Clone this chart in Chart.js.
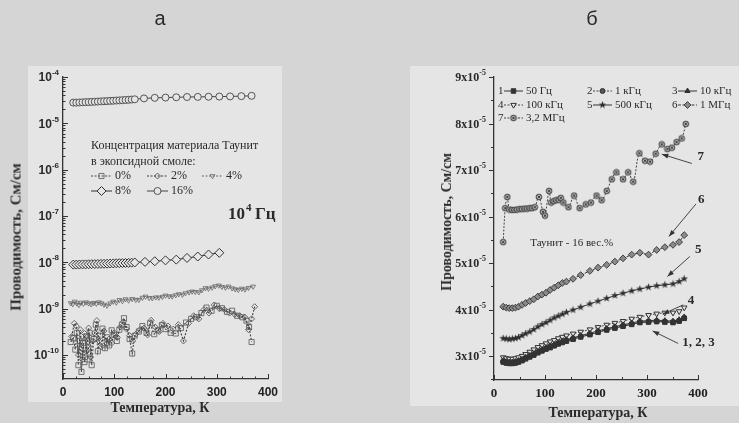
<!DOCTYPE html>
<html lang="ru">
<head>
<meta charset="utf-8">
<title>Проводимость</title>
<script src="https://cdn.jsdelivr.net/npm/chart.js@4.4.1/dist/chart.umd.min.js"></script>
<style>
  body { margin:0; width:739px; height:423px; overflow:hidden; background:#d5d5d5; position:relative; }
  .panel { position:absolute; background:#e5e5e5; }
  .chart-box { position:absolute; top:0; height:423px; }
  .label { position:absolute; color:#2a2a2a; white-space:nowrap; }
  .letter { font:20px "Liberation Sans", Arial, sans-serif; transform:translate(-50%,-50%); }
  .ytitle { font:bold 15px "Liberation Serif", serif; transform:translate(-50%,-50%) rotate(-90deg); }
  .xtitle { font:bold 14px "Liberation Serif", serif; transform:translate(-50%,-50%); }
</style>
</head>
<body>
<div class="panel" style="left:28px;top:66px;width:254px;height:336px"></div>
<div class="panel" style="left:410px;top:66px;width:329px;height:340px"></div>
<div class="chart-box" style="left:0;width:285px"><canvas id="chartA"></canvas></div>
<div class="chart-box" style="left:420px;width:319px"><canvas id="chartB"></canvas></div>
<div class="label letter" style="left:160px;top:18px">а</div>
<div class="label letter" style="left:592px;top:18px">б</div>
<div class="label ytitle" style="left:16px;top:237px">Проводимость, См/см</div>
<div class="label ytitle" style="left:447px;top:222px;font-size:14px">Проводимость, См/см</div>
<div class="label xtitle" style="left:160px;top:408px">Температура, К</div>
<div class="label xtitle" style="left:598px;top:413px">Температура, К</div>

<script>
// ---- панель а: 10^4 Гц, разные концентрации Таунита (См/см) ----
const t16 = [20,26,32,38,44,50,56,62,68,74,80,86,92,98,104,110,116,122,128,134,140,158,179,200,221,242,263,284,305,326,348,368];
const sigma16 = [2.80e-5,2.80e-5,2.82e-5,2.84e-5,2.86e-5,2.88e-5,2.90e-5,2.93e-5,2.95e-5,2.97e-5,3.00e-5,3.02e-5,3.05e-5,3.07e-5,3.10e-5,3.13e-5,3.16e-5,3.19e-5,3.22e-5,3.26e-5,3.30e-5,3.45e-5,3.55e-5,3.60e-5,3.65e-5,3.70e-5,3.72e-5,3.75e-5,3.78e-5,3.81e-5,3.86e-5,3.92e-5];

const t8 = [20,26,32,38,44,50,56,62,68,74,80,86,92,98,104,110,116,122,128,134,140,160,179,200,221,242,263,284,305];
const sigma8 = [8.9e-9,8.9e-9,8.95e-9,9.0e-9,9.0e-9,9.05e-9,9.1e-9,9.15e-9,9.2e-9,9.25e-9,9.3e-9,9.35e-9,9.4e-9,9.45e-9,9.5e-9,9.55e-9,9.6e-9,9.65e-9,9.7e-9,9.8e-9,9.9e-9,1.02e-8,1.05e-8,1.10e-8,1.14e-8,1.24e-8,1.33e-8,1.47e-8,1.60e-8];

const t4 = [15,19,23,27,31,35,40,45,50,55,60,65,70,75,80,86,92,98,104,110,116,122,128,135,142,148,155,161,168,174,181,187,194,200,207,213,220,226,233,239,246,252,258,265,271,278,284,291,297,304,310,317,323,330,336,342,349,355,362,371];
const sigma4 = [1.31e-9,1.25e-9,1.42e-9,1.30e-9,1.20e-9,1.35e-9,1.28e-9,1.37e-9,1.30e-9,1.24e-9,1.33e-9,1.28e-9,1.37e-9,1.30e-9,1.22e-9,1.16e-9,1.30e-9,1.42e-9,1.35e-9,1.54e-9,1.45e-9,1.60e-9,1.50e-9,1.62e-9,1.55e-9,1.55e-9,1.72e-9,1.82e-9,1.70e-9,1.68e-9,1.75e-9,1.73e-9,1.80e-9,1.92e-9,1.85e-9,1.83e-9,1.95e-9,2.05e-9,2.00e-9,2.15e-9,2.25e-9,2.34e-9,2.30e-9,2.26e-9,2.50e-9,2.77e-9,2.70e-9,2.86e-9,3.05e-9,3.16e-9,2.95e-9,2.85e-9,3.00e-9,2.75e-9,2.62e-9,2.55e-9,2.70e-9,2.60e-9,2.80e-9,3.00e-9];

const t2 = [17,22,26,30,34,38,42,46,50,54,58,62,66,70,75,80,85,90,95,100,106,112,118,124,130,136,142,150,158,165,172,180,188,195,205,215,225,235,245,255,265,275,285,295,305,315,325,335,345,355,362,368,374];
const sigma2 = [2.5e-10,4.8e-10,4.2e-10,1.0e-10,3.5e-10,8e-11,2.9e-10,1.2e-10,3.8e-10,9e-11,2.0e-10,3.0e-10,5.5e-10,2.0e-10,1.5e-10,3.3e-10,1.8e-10,2.2e-10,1.8e-10,3.0e-10,2.4e-10,4.0e-10,5.2e-10,3.6e-10,2.6e-10,2.0e-10,2.8e-10,3.5e-10,3.8e-10,2.7e-10,5.6e-10,4.0e-10,3.2e-10,4.8e-10,4.2e-10,3.6e-10,4.5e-10,2.0e-10,4.8e-10,7.0e-10,6.0e-10,9.5e-10,8.0e-10,1.2e-9,1.0e-9,9.5e-10,8.0e-10,7.5e-10,7.0e-10,6.5e-10,3.5e-10,6.0e-10,1.1e-9];

const t0 = [15,20,24,27,30,33,36,39,42,45,48,52,56,60,64,68,72,77,82,86,90,95,100,105,110,115,119,124,130,135,140,148,155,163,170,178,185,193,200,210,220,230,240,250,260,270,280,290,300,310,320,330,340,350,358,363,368];
const sigma0 = [1.9e-10,2.3e-10,1.3e-10,3.0e-10,6e-11,2.0e-10,4.3e-11,1.8e-10,7e-11,2.5e-10,8e-11,3e-10,6e-11,2.2e-10,4.5e-10,1.2e-10,2.6e-10,3.7e-10,1.4e-10,2.4e-10,1.6e-10,3.4e-10,2.7e-10,2.0e-10,3.5e-10,4.5e-10,6.2e-10,4.0e-10,2.2e-10,1.07e-10,2.6e-10,3.2e-10,4.2e-10,3.0e-10,4.8e-10,2.8e-10,3.4e-10,4.4e-10,3.6e-10,3.0e-10,2.9e-10,3.8e-10,5.0e-10,6.0e-10,6.5e-10,8.0e-10,1.05e-9,9e-10,1.15e-9,1.02e-9,8.5e-10,9e-10,7e-10,6.5e-10,5.5e-10,4.0e-10,1.9e-10];

const logTicksA = [-10,-9,-8,-7,-6,-5,-4];   // показатели степени у подписей оси Y
const xTicks = [0,100,200,300,400];

// ---- панель б: Таунит 16 вес.%, разные частоты (в единицах 1e-5 См/см) ----
const tB = [18,24,30,36,42,48,55,62,70,78,86,94,102,110,118,126,134,142,155,170,188,204,221,237,253,270,286,303,319,335,351,363,373];
const s50Hz  = [2.87,2.85,2.84,2.84,2.85,2.87,2.90,2.94,2.98,3.02,3.07,3.11,3.15,3.18,3.22,3.26,3.29,3.32,3.36,3.41,3.46,3.51,3.56,3.60,3.64,3.68,3.72,3.73,3.74,3.73,3.72,3.75,3.81];
const s1kHz  = [2.88,2.86,2.85,2.85,2.86,2.88,2.91,2.95,2.99,3.03,3.08,3.12,3.16,3.20,3.23,3.27,3.30,3.33,3.37,3.42,3.47,3.52,3.57,3.61,3.65,3.69,3.73,3.74,3.75,3.74,3.73,3.76,3.82];
const s10kHz = [2.90,2.88,2.87,2.87,2.88,2.90,2.93,2.97,3.01,3.05,3.10,3.14,3.18,3.22,3.25,3.29,3.32,3.35,3.39,3.44,3.49,3.54,3.59,3.63,3.67,3.71,3.75,3.76,3.77,3.76,3.75,3.78,3.84];
const s100kHz = [2.97,2.95,2.94,2.94,2.95,2.97,3.00,3.04,3.09,3.14,3.19,3.23,3.27,3.31,3.34,3.38,3.41,3.44,3.48,3.52,3.57,3.62,3.67,3.71,3.75,3.80,3.84,3.88,3.91,3.93,3.93,3.96,4.04];
const s500kHz = [3.38,3.37,3.36,3.37,3.38,3.40,3.44,3.48,3.52,3.57,3.63,3.68,3.72,3.77,3.82,3.86,3.90,3.94,3.99,4.05,4.12,4.18,4.24,4.30,4.35,4.40,4.44,4.48,4.51,4.53,4.55,4.60,4.66];
const s1MHz  = [4.06,4.04,4.03,4.03,4.04,4.06,4.10,4.14,4.18,4.22,4.28,4.32,4.36,4.42,4.47,4.52,4.57,4.60,4.66,4.74,4.83,4.90,4.96,5.03,5.10,5.18,5.22,5.18,5.28,5.34,5.39,5.45,5.60];
const t7 = [18,22,26,30,35,40,45,50,55,60,65,70,75,80,88,96,100,108,112,117,122,127,131,136,146,157,168,180,190,201,211,221,231,240,253,263,273,285,296,306,317,329,340,349,358,368,376];
const s3_2MHz = [5.45,6.18,6.42,6.15,6.14,6.14,6.15,6.16,6.16,6.17,6.17,6.18,6.18,6.20,6.42,6.10,6.02,6.55,6.30,6.33,6.35,6.36,6.40,6.30,6.20,6.45,6.18,6.26,6.30,6.45,6.35,6.55,6.80,6.95,6.80,6.95,6.75,7.36,7.20,7.18,7.35,7.55,7.45,7.48,7.60,7.68,7.99];

const yTicksB = [3,4,5,6,7,8,9];

function pts(ts, vs) {
    return ts.map((t, i) => ({ x: t, y: vs[i] }));
}

function markerCanvas(size, drawFn) {
    const c = document.createElement('canvas');
    c.width = size; c.height = size;
    drawFn(c.getContext('2d'), size / 2);
    return c;
}
const starMark = markerCanvas(9, (g, c) => {
    g.beginPath();
    for (let i = 0; i < 10; i++) {
        const r = i % 2 ? 1.6 : 4;
        const a = -Math.PI / 2 + i * Math.PI / 5;
        g.lineTo(c + r * Math.cos(a), c + r * Math.sin(a));
    }
    g.closePath();
    g.fillStyle = '#2e2e2e';
    g.fill();
});
const ringMark = markerCanvas(8, (g, c) => {
    g.beginPath();
    g.arc(c, c, 2.9, 0, Math.PI * 2);
    g.fillStyle = '#b0b0b0'; g.fill();
    g.strokeStyle = '#3a3a3a'; g.lineWidth = 0.9; g.stroke();
    g.beginPath();
    g.moveTo(c - 1.5, c - 1.5); g.lineTo(c + 1.5, c + 1.5);
    g.moveTo(c + 1.5, c - 1.5); g.lineTo(c - 1.5, c + 1.5);
    g.stroke();
});

const SANS = '"Liberation Sans", Arial, sans-serif';
const SERIF = '"Liberation Serif", "Times New Roman", serif';

function drawExpLabel(ctx, base, exp, xRight, y, font, expFont) {
    ctx.font = font;
    const w1 = ctx.measureText(base).width;
    ctx.font = expFont;
    const w2 = ctx.measureText(exp).width;
    const x0 = xRight - w1 - w2;
    ctx.textAlign = 'left';
    ctx.textBaseline = 'middle';
    ctx.font = font;
    ctx.fillText(base, x0, y);
    ctx.font = expFont;
    ctx.fillText(exp, x0 + w1, y - 5);
}

function legendItem(ctx, ds, x1, x2, y) {
    ctx.save();
    ctx.strokeStyle = ds.borderColor;
    ctx.lineWidth = ds.borderWidth;
    ctx.setLineDash(ds.borderDash || []);
    ctx.beginPath(); ctx.moveTo(x1, y); ctx.lineTo(x2, y); ctx.stroke();
    ctx.setLineDash([]);
    ctx.fillStyle = ds.pointBackgroundColor;
    ctx.strokeStyle = ds.pointBorderColor || ds.borderColor;
    ctx.lineWidth = ds.pointBorderWidth || 1;
    Chart.helpers.drawPoint(ctx, {
        pointStyle: ds.pointStyle, radius: ds.pointRadius,
        rotation: ds.pointRotation || 0, borderWidth: ctx.lineWidth
    }, (x1 + x2) / 2, y);
    ctx.restore();
}

function arrow(ctx, x1, y1, x2, y2) {
    const a = Math.atan2(y2 - y1, x2 - x1);
    ctx.beginPath(); ctx.moveTo(x1, y1); ctx.lineTo(x2, y2); ctx.stroke();
    ctx.beginPath();
    ctx.moveTo(x2, y2);
    ctx.lineTo(x2 - 7 * Math.cos(a - 0.35), y2 - 7 * Math.sin(a - 0.35));
    ctx.lineTo(x2 - 7 * Math.cos(a + 0.35), y2 - 7 * Math.sin(a + 0.35));
    ctx.closePath(); ctx.fill();
}

// ---------------- Chart а ----------------
const decorA = {
    id: 'decorA',
    afterDraw(chart) {
        const ctx = chart.ctx, xs = chart.scales.x, ys = chart.scales.y;
        const left = chart.chartArea.left, bottom = chart.chartArea.bottom;
        ctx.save();
        ctx.strokeStyle = '#333'; ctx.fillStyle = '#2a2a2a'; ctx.lineWidth = 1;
        // логарифмические деления
        for (let e = -11; e <= -4; e++) {
            for (let m = 1; m <= 9; m++) {
                const v = m * Math.pow(10, e);
                if (v < ys.min * 0.999 || v > ys.max * 1.001) continue;
                const y = Math.round(ys.getPixelForValue(v)) + 0.5;
                ctx.beginPath(); ctx.moveTo(left, y); ctx.lineTo(left + (m === 1 ? 5 : 2.5), y); ctx.stroke();
            }
        }
        logTicksA.forEach(e => {
            drawExpLabel(ctx, '10', String(e), left - 4, ys.getPixelForValue(Math.pow(10, e)) + 1,
                'bold 12px ' + SANS, 'bold 8px ' + SANS);
        });
        for (let t = 0; t <= 400; t += 25) {
            const x = Math.round(xs.getPixelForValue(t)) + 0.5;
            ctx.beginPath(); ctx.moveTo(x, bottom); ctx.lineTo(x, bottom - (t % 100 === 0 ? 5 : 2.5)); ctx.stroke();
        }
        // легенда
        const dsets = chart.data.datasets;
        ctx.font = '12px ' + SERIF; ctx.textBaseline = 'middle'; ctx.textAlign = 'left';
        ctx.fillText('Концентрация материала Таунит', 91, 146);
        ctx.fillText('в экопсидной смоле:', 91, 162);
        const cols = [91, 147, 202];
        [[0, 0, 0], [1, 1, 0], [2, 2, 0], [3, 0, 1], [4, 1, 1]].forEach(([di, c, r]) => {
            const y = 176 + r * 15;
            legendItem(ctx, dsets[di], cols[c], cols[c] + 21, y);
            ctx.fillStyle = '#2a2a2a';
            ctx.font = '12px ' + SERIF;
            ctx.fillText(dsets[di].label, cols[c] + 24, y);
        });
        // частота
        ctx.font = 'bold 17px ' + SERIF;
        ctx.fillText('10', 228, 215);
        const w10 = ctx.measureText('10').width;
        ctx.font = 'bold 11px ' + SERIF;
        ctx.fillText('4', 228 + w10 + 1, 208);
        ctx.font = 'bold 17px ' + SERIF;
        ctx.fillText('Гц', 228 + w10 + 10, 215);
        ctx.restore();
    }
};

new Chart(document.getElementById('chartA'), {
    type: 'line',
    data: {
        datasets: [
            { label: '0%', data: pts(t0, sigma0), borderColor: '#4a4a4a', borderWidth: 1.1, borderDash: [2, 1.5],
              pointStyle: 'rect', pointRadius: 3.6, pointBackgroundColor: 'rgba(0,0,0,0)', pointBorderColor: '#555', pointBorderWidth: 0.8 },
            { label: '2%', data: pts(t2, sigma2), borderColor: '#3e3e3e', borderWidth: 1.1, borderDash: [2, 1.5],
              pointStyle: 'rectRot', pointRadius: 3, pointBackgroundColor: 'rgba(0,0,0,0)', pointBorderColor: '#4a4a4a', pointBorderWidth: 0.8 },
            { label: '4%', data: pts(t4, sigma4), borderColor: '#666', borderWidth: 1, borderDash: [2, 1.5],
              pointStyle: 'triangle', pointRotation: 180, pointRadius: 2.8, pointBackgroundColor: 'rgba(0,0,0,0)', pointBorderColor: '#666', pointBorderWidth: 0.8 },
            { label: '8%', data: pts(t8, sigma8), borderColor: '#333', borderWidth: 1,
              pointStyle: 'rectRot', pointRadius: 4.5, pointBackgroundColor: '#e5e5e5', pointBorderColor: '#333', pointBorderWidth: 1 },
            { label: '16%', data: pts(t16, sigma16), borderColor: '#444', borderWidth: 1,
              pointStyle: 'circle', pointRadius: 3.5, pointBackgroundColor: '#e5e5e5', pointBorderColor: '#444', pointBorderWidth: 0.9 }
        ]
    },
    options: {
        responsive: true,
        maintainAspectRatio: false,
        animation: false,
        layout: { padding: { left: 0, right: 17, top: 77, bottom: 0 } },
        plugins: { legend: { display: false }, tooltip: { enabled: false } },
        scales: {
            x: {
                type: 'linear', min: 0, max: 400,
                afterBuildTicks: s => { s.ticks = xTicks.map(v => ({ value: v })); },
                afterFit: s => { s.height = 44; },
                grid: { display: false, drawTicks: false },
                border: { display: true, color: '#333', width: 1.3 },
                ticks: { padding: 6, color: '#222', font: { family: SANS, size: 12, weight: 'bold' } }
            },
            y: {
                type: 'logarithmic', min: Math.pow(10, -10.52), max: 1e-4,
                afterFit: s => { s.width = 63; },
                grid: { display: false, drawTicks: false },
                border: { display: true, color: '#333', width: 1.3 },
                ticks: { display: false }
            }
        }
    },
    plugins: [decorA]
});

// ---------------- Chart б ----------------
const arrowsB = [
    { text: '7', at: [399, 7.28], from: [388, 7.14], to: [329, 7.34] },
    { text: '6', at: [400, 6.36], from: [396, 6.27], to: [343, 5.57] },
    { text: '5', at: [394, 5.28], from: [384, 5.14], to: [340, 4.71] },
    { text: '4', at: [380, 4.20], from: [371, 4.10], to: [331, 3.90] },
    { text: '1, 2, 3', at: [369, 3.28], from: [361, 3.27], to: [311, 3.54] }
];
const legendB = [
    { num: '1', di: 0, label: '50 Гц', c: 0, r: 0 },
    { num: '2', di: 1, label: '1 кГц', c: 1, r: 0 },
    { num: '3', di: 2, label: '10 кГц', c: 2, r: 0 },
    { num: '4', di: 3, label: '100 кГц', c: 0, r: 1 },
    { num: '5', di: 4, label: '500 кГц', c: 1, r: 1 },
    { num: '6', di: 5, label: '1 МГц', c: 2, r: 1 },
    { num: '7', di: 6, label: '3,2 МГц', c: 0, r: 2 }
];

const decorB = {
    id: 'decorB',
    afterDraw(chart) {
        const ctx = chart.ctx, xs = chart.scales.x, ys = chart.scales.y;
        const left = chart.chartArea.left, bottom = chart.chartArea.bottom;
        ctx.save();
        ctx.strokeStyle = '#333'; ctx.fillStyle = '#2a2a2a'; ctx.lineWidth = 1;
        for (let v = 2.5; v <= 9.001; v += 0.5) {
            const y = Math.round(ys.getPixelForValue(v)) + 0.5;
            const major = Math.abs(v - Math.round(v)) < 0.01;
            ctx.beginPath(); ctx.moveTo(left, y); ctx.lineTo(left - (major ? 5 : 3), y); ctx.stroke();
        }
        yTicksB.forEach(v => {
            drawExpLabel(ctx, v + 'x10', '-5', left - 8, ys.getPixelForValue(v) + 1,
                'bold 12px ' + SERIF, 'bold 8px ' + SERIF);
        });
        for (let t = 0; t <= 400; t += 50) {
            const x = Math.round(xs.getPixelForValue(t)) + 0.5;
            ctx.beginPath(); ctx.moveTo(x, bottom); ctx.lineTo(x, bottom - (t % 100 === 0 ? 5 : 3)); ctx.stroke();
        }
        // легенда
        const dsets = chart.data.datasets;
        const cols = [78, 167, 252], rows = [91, 105, 118];
        ctx.textBaseline = 'middle'; ctx.textAlign = 'left';
        legendB.forEach(it => {
            const x = cols[it.c], y = rows[it.r];
            ctx.fillStyle = '#2a2a2a';
            ctx.font = '11px ' + SERIF;
            ctx.fillText(it.num, x, y);
            legendItem(ctx, dsets[it.di], x + 6, x + 25, y);
            ctx.fillStyle = '#2a2a2a';
            ctx.font = '11px ' + SERIF;
            ctx.fillText(it.label, x + 28, y);
        });
        ctx.font = '11px ' + SERIF;
        ctx.fillText('Таунит - 16 вес.%', xs.getPixelForValue(71), ys.getPixelForValue(5.43));
        // стрелки
        ctx.strokeStyle = '#333'; ctx.fillStyle = '#333'; ctx.lineWidth = 0.9;
        arrowsB.forEach(a => {
            arrow(ctx, xs.getPixelForValue(a.from[0]), ys.getPixelForValue(a.from[1]),
                xs.getPixelForValue(a.to[0]), ys.getPixelForValue(a.to[1]));
            ctx.fillStyle = '#2a2a2a';
            ctx.font = 'bold 13px ' + SERIF;
            ctx.fillText(a.text, xs.getPixelForValue(a.at[0]), ys.getPixelForValue(a.at[1]));
            ctx.fillStyle = '#333';
        });
        ctx.restore();
    }
};

new Chart(document.getElementById('chartB'), {
    type: 'line',
    data: {
        datasets: [
            { label: '50 Гц', data: pts(tB, s50Hz), borderColor: '#333', borderWidth: 1,
              pointStyle: 'rect', pointRadius: 3.2, pointBackgroundColor: '#333', pointBorderColor: '#333' },
            { label: '1 кГц', data: pts(tB, s1kHz), borderColor: '#444', borderWidth: 1, borderDash: [2, 1.5],
              pointStyle: 'circle', pointRadius: 2.5, pointBackgroundColor: '#555', pointBorderColor: '#333' },
            { label: '10 кГц', data: pts(tB, s10kHz), borderColor: '#333', borderWidth: 1,
              pointStyle: 'triangle', pointRadius: 3, pointBackgroundColor: '#333', pointBorderColor: '#333' },
            { label: '100 кГц', data: pts(tB, s100kHz), borderColor: '#444', borderWidth: 1, borderDash: [2, 1.5],
              pointStyle: 'triangle', pointRotation: 180, pointRadius: 3.2, pointBackgroundColor: '#e5e5e5', pointBorderColor: '#333' },
            { label: '500 кГц', data: pts(tB, s500kHz), borderColor: '#333', borderWidth: 1,
              pointStyle: starMark, pointBackgroundColor: '#333', pointBorderColor: '#333' },
            { label: '1 МГц', data: pts(tB, s1MHz), borderColor: '#3a3a3a', borderWidth: 1, borderDash: [3, 1.5],
              pointStyle: 'rectRot', pointRadius: 3.4, pointBackgroundColor: '#8a8a8a', pointBorderColor: '#333', pointBorderWidth: 0.9 },
            { label: '3,2 МГц', data: pts(t7, s3_2MHz), borderColor: '#444', borderWidth: 1, borderDash: [2, 1.5], tension: 0.35,
              pointStyle: ringMark, pointBackgroundColor: '#b0b0b0', pointBorderColor: '#3a3a3a' }
        ]
    },
    options: {
        responsive: true,
        maintainAspectRatio: false,
        animation: false,
        layout: { padding: { left: 0, right: 41, top: 77, bottom: 0 } },
        plugins: { legend: { display: false }, tooltip: { enabled: false } },
        scales: {
            x: {
                type: 'linear', min: 0, max: 400,
                afterBuildTicks: s => { s.ticks = xTicks.map(v => ({ value: v })); },
                afterFit: s => { s.height = 43; },
                grid: { display: false, drawTicks: false },
                border: { display: true, color: '#333', width: 1.3 },
                ticks: { padding: 6, color: '#222', font: { family: SERIF, size: 13, weight: 'bold' } }
            },
            y: {
                type: 'linear', min: 2.484, max: 9,
                afterFit: s => { s.width = 74; },
                grid: { display: false, drawTicks: false },
                border: { display: true, color: '#333', width: 1.3 },
                ticks: { display: false }
            }
        }
    },
    plugins: [decorB]
});
</script>
</body>
</html>
